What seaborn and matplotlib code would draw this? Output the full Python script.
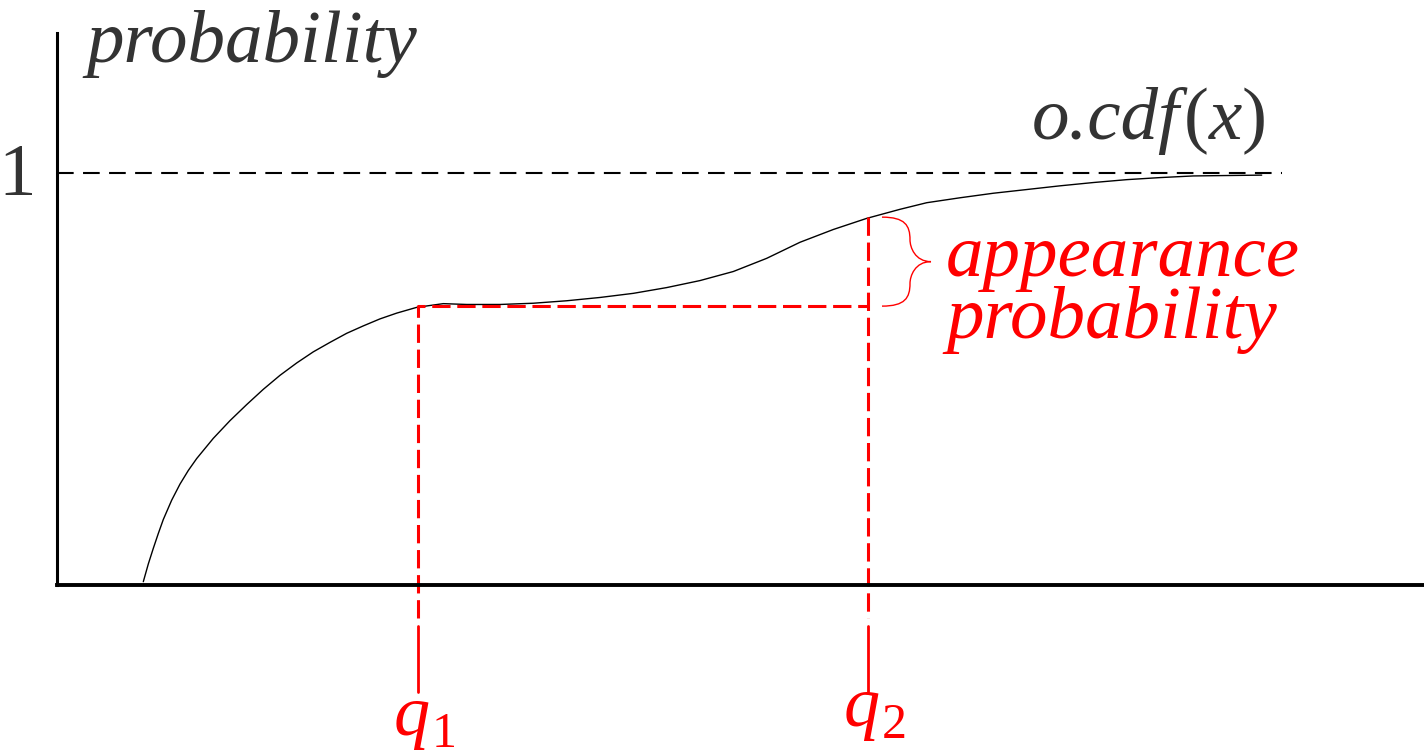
import matplotlib
matplotlib.use("Agg")
import matplotlib.pyplot as plt
from matplotlib import font_manager as fm
from matplotlib.path import Path
from matplotlib.patches import PathPatch
from matplotlib.transforms import ScaledTranslation
import seaborn as sns

# Cumulative distribution curve (x in arbitrary units, probability on y)
cdf_x = [0.863, 0.913, 0.963, 1.013, 1.063, 1.147, 1.230, 1.313, 1.397, 1.563,
         1.730, 1.897, 2.063, 2.230, 2.397, 2.563, 2.730, 2.897, 3.063, 3.230,
         3.397, 3.597, 3.863, 4.097, 4.430, 4.763, 5.097, 5.430, 5.763, 6.097,
         6.430, 6.763, 7.097, 7.430, 7.763, 8.097, 8.430, 8.697, 9.030, 9.363,
         9.697, 10.030, 10.363, 10.697, 11.030, 11.363, 11.697, 12.047]
cdf_y = [0.008, 0.051, 0.089, 0.125, 0.159, 0.206, 0.245, 0.278, 0.307, 0.356,
         0.399, 0.438, 0.475, 0.509, 0.539, 0.566, 0.589, 0.611, 0.629, 0.646,
         0.660, 0.674, 0.683, 0.681, 0.681, 0.684, 0.690, 0.698, 0.708, 0.722,
         0.739, 0.761, 0.793, 0.832, 0.863, 0.890, 0.912, 0.928, 0.940, 0.951,
         0.960, 0.969, 0.977, 0.984, 0.989, 0.993, 0.994, 0.995]

# Quantile positions and the curve value at each of them
q_values = [3.61, 8.11]
q_probs = [0.677, 0.893]
q_names = ["q", "q"]
q_subs = ["1", "2"]

RED = "#ff0000"
INK = "#333333"
W, H = 1424, 756

sns.set_style("white")

serif_rm = fm.FontProperties(fname=fm.findfont(
    fm.FontProperties(family="Liberation Serif", style="normal")))
serif_it = fm.FontProperties(fname=fm.findfont(
    fm.FontProperties(family="Liberation Serif", style="italic")))

fig = plt.figure(figsize=(W / 100, H / 100), dpi=100)
ax = fig.add_axes([57 / W, (H - 585) / H, (W - 57) / W, (585 - 33) / H])
ax.set_xlim(0, 13.67)
ax.set_ylim(0, 1.34)

sns.lineplot(x=cdf_x, y=cdf_y, ax=ax, color="black", linewidth=1.0, sort=False)

# Upper bound of the CDF
ax.plot([0, 12.25], [1, 1], color="black", linewidth=1.5, dashes=(8, 4.5))

# Quantile guides
q1, q2 = q_values
p1, p2 = q_probs
ax.plot([q1, q1, q2], [-0.08, p1, p1], color=RED, linewidth=2.2, dashes=(6, 2.2),
        clip_on=False)
ax.plot([q2, q2], [p2, -0.08], color=RED, linewidth=2.2, dashes=(6, 2.2), clip_on=False)
for q in q_values:
    ax.plot([q, q], [-0.10, -0.26], color=RED, linewidth=2.0, clip_on=False)

# Curly brace between the two probabilities
x0, xm, xt = q2 + 0.14, q2 + 0.42, q2 + 0.63
ym = (p1 + p2) / 2
verts = [
    (x0, p2), (x0 + 0.23, p2), (xm, p2 - 0.02), (xm, p2 - 0.055),
    (xm, ym + 0.035), (xm + 0.05, ym), (xt, ym),
    (xm + 0.05, ym), (xm, ym - 0.035), (xm, p1 + 0.055),
    (xm, p1 + 0.02), (x0 + 0.23, p1), (x0, p1),
]
codes = [Path.MOVETO] + [Path.CURVE4] * 12
ax.add_patch(PathPatch(Path(verts, codes), facecolor="none", edgecolor=RED,
                       linewidth=1.0, clip_on=False))

ax.set_xticks([])
ax.set_yticks([])
for side in ("top", "right"):
    ax.spines[side].set_visible(False)
ax.spines["left"].set_linewidth(2.2)
ax.spines["bottom"].set_linewidth(2.8)
ax.spines["left"].set_color("black")
ax.spines["bottom"].set_color("black")


def fig_xy(px, py):
    return px / W, 1 - py / H


fs = 54
fig.text(*fig_xy(86, 62), "probability", fontproperties=serif_it, fontsize=fs,
         color=INK, va="baseline", ha="left")
fig.text(*fig_xy(36, 195), "1", fontproperties=serif_rm, fontsize=fs, color=INK,
         va="baseline", ha="right")

# Curve name: italic letters with upright parentheses, laid out left to right
pieces = [("o.cdf", serif_it, 4), ("(", serif_rm, 0), ("x", serif_it, 0), (")", serif_rm, 0)]
renderer = fig.canvas.get_renderer()
x_px, y_px = 1032, 139
for txt, fp, gap in pieces:
    t = fig.text(*fig_xy(x_px, y_px), txt, fontproperties=fp, fontsize=fs,
                 color=INK, va="baseline", ha="left")
    x_px += t.get_window_extent(renderer).width + gap

fig.text(*fig_xy(946, 276), "appearance", fontproperties=serif_it, fontsize=fs,
         color=RED, va="baseline", ha="left")
fig.text(*fig_xy(946, 338), "probability", fontproperties=serif_it, fontsize=fs,
         color=RED, va="baseline", ha="left")

# Quantile labels: italic q with an upright subscript
for q, name, sub, base in zip(q_values, q_names, q_subs, [735, 726]):
    yb = (585 - base) / 412
    ax.text(q, yb, name, fontproperties=serif_it, fontsize=52, color=RED,
            ha="right", va="baseline", clip_on=False,
            transform=ax.transData + ScaledTranslation(0.12, 0, fig.dpi_scale_trans))
    ax.text(q, yb, sub, fontproperties=serif_rm, fontsize=36, color=RED,
            ha="left", va="baseline", clip_on=False,
            transform=ax.transData + ScaledTranslation(0.14, -0.12, fig.dpi_scale_trans))

fig.savefig("out.png", dpi=100)
